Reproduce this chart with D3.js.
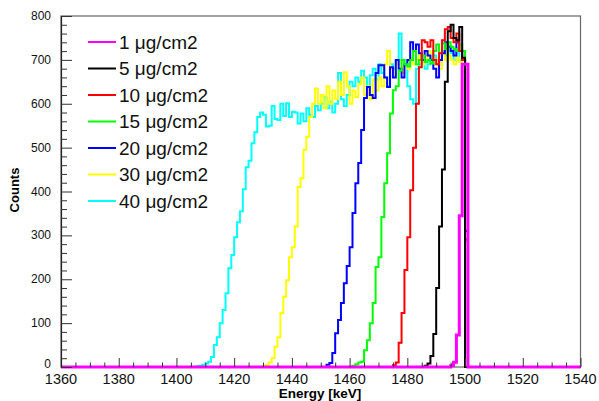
<!DOCTYPE html>
<html>
<head>
<meta charset="utf-8">
<script src="https://cdn.jsdelivr.net/npm/d3@7.9.0/dist/d3.min.js"></script>
<style>
  html, body { margin: 0; padding: 0; background: #fff; }
  svg { display: block; font-family: "Liberation Sans", Arial, Helvetica, sans-serif; }
</style>
</head>
<body>
<svg id="chart" width="599" height="401"></svg>
<script>
// ====== DATA (1 keV bins, counts) ======

const labels = ['1 μg/cm2', '5 μg/cm2', '10 μg/cm2', '15 μg/cm2', '20 μg/cm2', '30 μg/cm2', '40 μg/cm2'];
const colors = ['#ff00ff', '#000000', '#ff0000', '#00ff00', '#0000ff', '#ffff00', '#00ffff'];

// first non-empty bin of each series
const firstBin = [1495, 1486, 1475, 1461, 1452, 1430, 1407];

const counts1 = [3, 11, 73, 345, 690, 690];
const counts5 = [3, 8, 25, 75, 180, 320, 450, 650, 765, 780, 750, 745, 775, 705, 0];
const counts10 = [4, 10, 55, 123, 221, 296, 403, 500, 600, 683, 745, 740, 730, 745, 700,
  690, 715, 745, 770, 775, 750, 740, 760, 720, 700, 290];
const counts15 = [3, 6, 10, 12, 38, 61, 100, 146, 228, 250, 342, 419, 487, 578, 631,
  640, 676, 700, 690, 685, 700, 720, 690, 700, 710, 695, 700, 692, 720, 735,
  715, 738, 725, 740, 730, 725, 720, 735, 720, 0];
const counts20 = [5, 9, 32, 77, 107, 146, 191, 230, 273, 351, 419, 465, 540, 613, 638,
  620, 613, 670, 688, 688, 660, 638, 683, 660, 700, 680, 660, 690, 700, 740,
  720, 735, 715, 700, 720, 710, 700, 680, 660, 700, 715, 740, 730, 720, 710,
  740, 720, 700, 310];
const counts30 = [2, 5, 10, 20, 46, 68, 123, 160, 198, 250, 273, 320, 410, 430, 495,
  525, 570, 600, 635, 600, 620, 590, 640, 600, 630, 610, 650, 620, 672, 640,
  600, 630, 615, 645, 660, 620, 640, 610, 655, 630, 660, 640, 690, 720, 680,
  665, 690, 700, 670, 690, 680, 705, 690, 700, 710, 690, 700, 720, 705, 690,
  700, 680, 715, 700, 710, 700, 690, 705, 695, 700, 0];
const counts40 = [2, 3, 5, 8, 12, 23, 50, 68, 100, 130, 168, 225, 255, 296, 330,
  355, 405, 455, 470, 510, 535, 570, 580, 575, 548, 550, 595, 565, 563, 600,
  572, 601, 570, 582, 580, 555, 578, 560, 590, 575, 570, 595, 585, 600, 615,
  590, 605, 580, 600, 670, 610, 595, 620, 650, 640, 660, 650, 675, 660, 640,
  665, 680, 655, 690, 670, 660, 640, 690, 680, 700, 760, 700, 690, 640, 610,
  600, 680, 690, 700, 680, 690, 700, 710, 690, 700, 720, 710, 730, 715, 700,
  720, 700, 700, 0];

const seriesCounts = [counts1, counts5, counts10, counts15, counts20, counts30, counts40];

const xTicks = [1360, 1380, 1400, 1420, 1440, 1460, 1480, 1500, 1520, 1540];
const yTicks = [0, 100, 200, 300, 400, 500, 600, 700, 800];

// ====== LAYOUT ======

const svg = d3.select('#chart');
const plot = { left: 61, right: 580.5, top: 16, bottom: 367 };

const x = d3.scaleLinear().domain([1360, 1540]).range([plot.left, plot.right]);
const y = d3.scaleLinear().domain([0, 800]).range([plot.bottom, plot.top]);

// full histogram over the axis range, zero outside the filled bins
function toBins(start, values) {
  const bins = [];
  for (let e = 1360; e < 1540; e++) {
    const i = e - start;
    bins.push({ e, c: i >= 0 && i < values.length ? values[i] : 0 });
  }
  bins.push({ e: 1540, c: bins[bins.length - 1].c });
  return bins;
}

// frame
svg.append('rect')
  .attr('x', plot.left).attr('y', plot.top)
  .attr('width', plot.right - plot.left).attr('height', plot.bottom - plot.top)
  .attr('fill', 'none').attr('stroke', '#666').attr('stroke-width', 1.2);

// ====== HISTOGRAMS ======

const line = d3.line()
  .x((d) => x(d.e))
  .y((d) => y(d.c))
  .curve(d3.curveStepAfter);

// drawn from 40 down to 1 so magenta ends up on top
const order = d3.range(labels.length).reverse();
svg.append('g')
  .selectAll('path')
  .data(order)
  .join('path')
  .attr('d', (i) => line(toBins(firstBin[i], seriesCounts[i])))
  .attr('fill', 'none')
  .attr('stroke', (i) => colors[i])
  .attr('stroke-width', (i) => (i === 0 ? 3 : 2))
  .attr('stroke-linejoin', 'miter');

// ====== AXES ======

const xAxis = svg.append('g').attr('transform', `translate(0,${plot.bottom})`);
xAxis.call(
  d3.axisBottom(x).tickValues(d3.range(1360, 1541, 5)).tickSize(-4).tickFormat('')
);
xAxis.selectAll('.tick line')
  .attr('y2', (d) => (d % 20 === 0 ? -9 : -4.5))
  .attr('stroke', '#333');
xAxis.select('.domain').remove();
xAxis.selectAll('.label')
  .data(xTicks)
  .join('text')
  .attr('class', 'label')
  .attr('x', (d) => x(d))
  .attr('y', 17)
  .attr('text-anchor', 'middle')
  .attr('font-size', 14.5)
  .attr('fill', '#111')
  .text((d) => d);

const yAxis = svg.append('g').attr('transform', `translate(${plot.left},0)`);
yAxis.call(d3.axisRight(y).tickValues(d3.range(0, 801, 20)).tickFormat(''));
yAxis.selectAll('.tick line')
  .attr('x2', (d) => (d % 100 === 0 ? 11 : 6))
  .attr('stroke', '#333');
yAxis.select('.domain').attr('stroke', '#222').attr('stroke-width', 1.2);
yAxis.selectAll('.label')
  .data(yTicks)
  .join('text')
  .attr('class', 'label')
  .attr('x', -10)
  .attr('y', (d) => y(d) - (d === 0 ? 3 : 0))
  .attr('dy', '0.34em')
  .attr('text-anchor', 'end')
  .attr('font-size', 12)
  .attr('fill', '#111')
  .text((d) => d);

// axis titles
svg.append('text')
  .attr('x', 320).attr('y', 398)
  .attr('text-anchor', 'middle')
  .attr('font-size', 13.5).attr('font-weight', 'bold')
  .text('Energy [keV]');

svg.append('text')
  .attr('transform', 'translate(19,190) rotate(-90)')
  .attr('text-anchor', 'middle')
  .attr('font-size', 13).attr('font-weight', 'bold')
  .text('Counts');

// ====== LEGEND ======

const legend = svg.append('g')
  .selectAll('g')
  .data(labels)
  .join('g')
  .attr('transform', (d, i) => `translate(88,${42 + i * 26.5})`);

legend.append('line')
  .attr('x1', 0).attr('x2', 28)
  .attr('stroke', (d, i) => colors[i])
  .attr('stroke-width', 2);

legend.append('text')
  .attr('x', 31)
  .attr('dy', '0.36em')
  .attr('font-size', 19)
  .attr('fill', '#111')
  .text((d) => d);
</script>
</body>
</html>
